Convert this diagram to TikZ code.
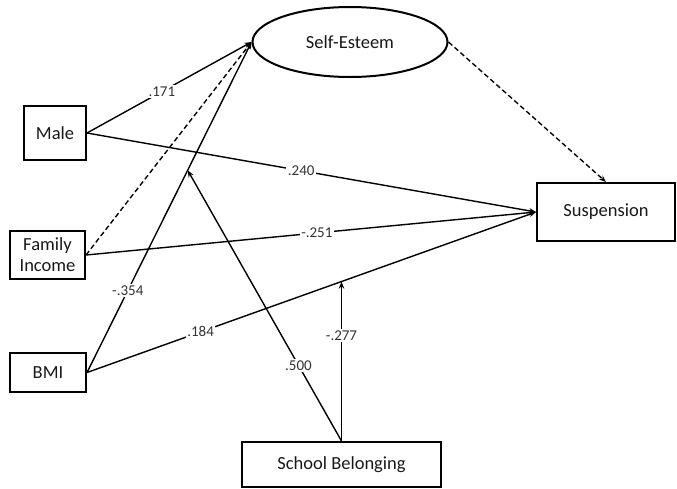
\documentclass[tikz,border=0pt]{standalone}
\usepackage{fontspec}
\setmainfont{Carlito}
\usetikzlibrary{arrows.meta,shapes.geometric}
\begin{document}
\begin{tikzpicture}[x=1pt,y=-1pt,
  box/.style={draw=black,line width=2pt,rectangle,inner sep=0pt,align=center,
    font=\fontsize{18.5}{21}\selectfont,text=black!90},
  latent/.style={box,ellipse},
  effect/.style={line width=1.4pt,-{Stealth[length=7pt,width=5.5pt]}},
  weak/.style={effect,dash pattern=on 5pt off 3pt},
  coef/.style={fill=white,inner sep=1.5pt,font=\fontsize{15}{15}\selectfont,text=black!80}]
\useasboundingbox (0,0) rectangle (677,488);

% variables
\node[latent,minimum width=195pt,minimum height=70pt] (se) at (350,42) {Self-Esteem};
\node[box,minimum width=62pt,minimum height=54pt] (male) at (55,133) {Male};
\node[box,minimum width=75pt,minimum height=48pt] (fam) at (47.5,255) {Family\\Income};
\node[box,minimum width=76pt,minimum height=39pt] (bmi) at (48,372.5) {BMI};
\node[box,minimum width=138pt,minimum height=58pt] (susp) at (606,212) {Suspension};
\node[box,minimum width=199pt,minimum height=45pt] (school) at (341.5,464.5) {School Belonging};

% paths to self-esteem
\draw[effect] (male.east) -- node[coef,pos=0.455] {.171} (se.west);
\draw[weak] (fam.east) -- (se.west);
\draw[effect] (bmi.east) -- coordinate[pos=0.612] (m1) node[coef,pos=0.248] {-.354} (se.west);

% paths to suspension
\draw[effect] (male.east) -- node[coef,pos=0.477] {.240} (susp.west);
\draw[effect] (fam.east) -- node[coef,pos=0.513] {-.251} (susp.west);
\draw[effect] (bmi.east) -- coordinate[pos=0.566] (m2) node[coef,pos=0.253] {.184} (susp.west);
\draw[weak] (se.east) -- (susp.north);

% moderation by school belonging
\draw[effect] (school.north) -- node[coef,pos=0.28] {.500} (m1);
\draw[effect] (school.north) -- node[coef,pos=0.66] {-.277} (school.north |- m2);
\end{tikzpicture}
\end{document}
